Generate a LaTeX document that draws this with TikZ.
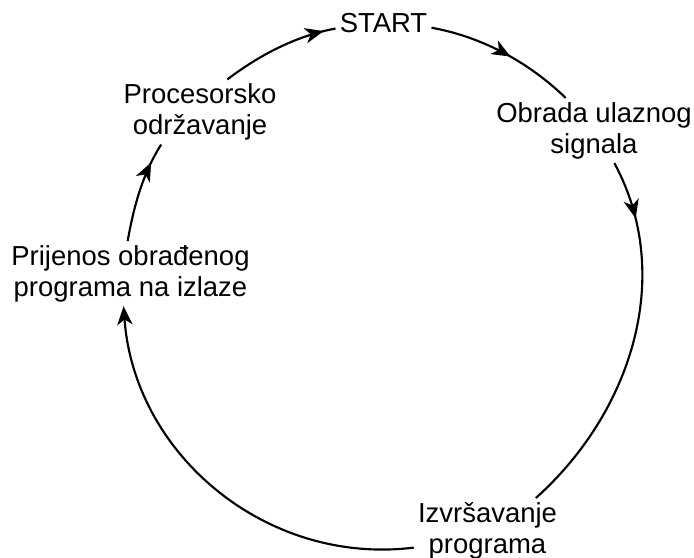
\documentclass[tikz,border=0pt]{standalone}
\usepackage{fontspec}
\setmainfont{Liberation Sans}
\usetikzlibrary{arrows.meta, decorations.markings}
\tikzset{
  cycline/.style={line width=1.6pt, black},
  cycmark/.style={
    decoration={markings,
      mark=at position #1 with {\arrow{Stealth[length=14pt, width=11.5pt, inset=4pt]}}},
    postaction={decorate}
  },
  cycend/.style={-{Stealth[length=14pt, width=11.5pt, inset=4pt]}}
}

\begin{document}
\begin{tikzpicture}[
  x=0.75pt, y=0.75pt,
  phase/.style={font=\fontsize{20.6}{23.25}\selectfont, align=center, inner sep=3pt}
]
\useasboundingbox (0,0) rectangle (694,558);

% Steps of the cycle
\node[phase] (start) at (383.5,534.5) {START};
\node[phase] (obrada) at (594,427.5) {Obrada ulaznog\\signala};
\node[phase] (izvr) at (487.5,27.4) {Izvršavanje\\programa};
\node[phase] (prij) at (130.5,284.4) {Prijenos obrađenog\\programa na izlaze};
\node[phase] (proc) at (200,446) {Procesorsko\\održavanje};

% Arcs between the steps
\draw[cycline, cycmark=0.55] (start.-5) to[out=-10.3, in=136, looseness=0.87] (obrada.131);
\draw[cycline, cycmark=0.16] (obrada.-58) to[out=-61.6, in=41.8, looseness=0.954] (izvr.34);
\draw[cycline, cycend] (izvr.193) to[out=187, in=274.1, looseness=1.007] (prij.258);
\draw[cycline, cycmark=0.8] (prij.95) to[out=80, in=237.3, looseness=0.86] (proc.220.6);
\draw[cycline, cycmark=0.9] (proc.50) to[out=37.2, in=190.5, looseness=0.86] (start.186);

\end{tikzpicture}
\end{document}
